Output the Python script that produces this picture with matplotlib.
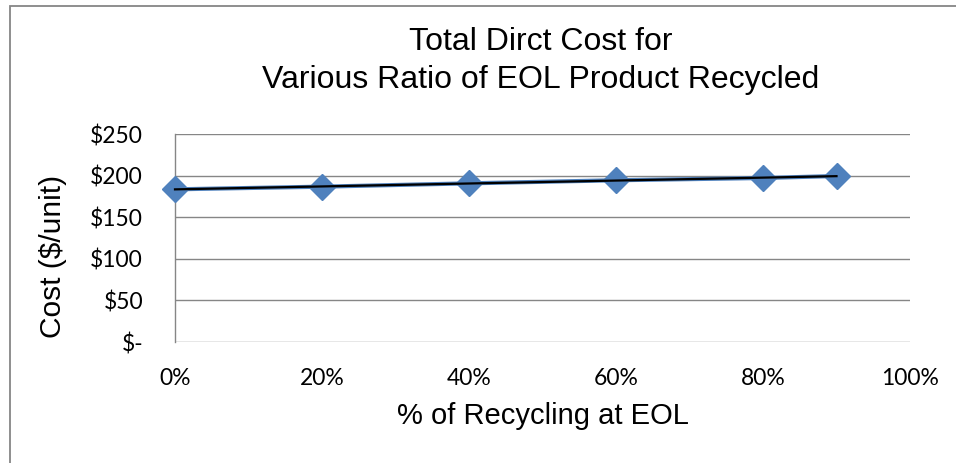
import numpy as np
import matplotlib.pyplot as plt
from matplotlib.patches import Rectangle
from matplotlib.ticker import FuncFormatter

# Recycling share at end of life and total direct cost per unit
recycle_share = [0.0, 0.2, 0.4, 0.6, 0.8, 0.9]
direct_cost = [183.5, 186.7, 190.7, 194.4, 197.1, 199.5]

x_ticks = [0.0, 0.2, 0.4, 0.6, 0.8, 1.0]
y_ticks = [0, 50, 100, 150, 200, 250]

title_lines = ["Total Dirct Cost for", "Various Ratio of EOL Product Recycled"]
x_label = "% of Recycling at EOL"
y_label = "Cost ($/unit)"

W, H = 956, 463
fig = plt.figure(figsize=(W / 100, H / 100), dpi=100)
fig.patch.set_facecolor("white")

# outer chart frame
fig.add_artist(Rectangle((9.5 / W, -0.1), 2.0, 1.1 - 6.5 / H,
                         transform=fig.transFigure, fill=False,
                         edgecolor="#868686", linewidth=1.3))

ax = fig.add_axes([175 / W, (H - 342) / H, 735 / W, 208 / H])
ax.set_xlim(0, 1.0)
ax.set_ylim(0, 250)

ax.set_xticks(x_ticks)
ax.set_yticks(y_ticks)
ax.xaxis.set_major_formatter(FuncFormatter(lambda v, p: f"{v * 100:.0f}%"))
ax.yaxis.set_major_formatter(FuncFormatter(lambda v, p: "$-" if v == 0 else f"${v:.0f}"))
for lbl in ax.get_xticklabels() + ax.get_yticklabels():
    lbl.set_fontfamily("Lato")
    lbl.set_fontsize(16.5)
ax.tick_params(axis="both", length=0, colors="black")
ax.tick_params(axis="x", pad=19)
ax.tick_params(axis="y", pad=23)

ax.grid(axis="y", color="#868686", linewidth=1.0)
ax.set_axisbelow(True)
for side in ["top", "right", "bottom"]:
    ax.spines[side].set_visible(False)
ax.spines["left"].set_color("#868686")
ax.spines["left"].set_linewidth(1.0)

# data series
ax.plot(recycle_share, direct_cost, color="#4f81bd", linewidth=3,
        marker="D", markersize=13, markerfacecolor="#4f81bd",
        markeredgecolor="#4f81bd", clip_on=False, zorder=3)

# linear trend line through the series
coef = np.polyfit(recycle_share, direct_cost, 1)
xs = np.array([recycle_share[0], recycle_share[-1]])
ax.plot(xs, np.polyval(coef, xs), color="black", linewidth=1.6,
        clip_on=False, zorder=4)

ax.set_xlabel(x_label, family="Liberation Sans", fontsize=21, labelpad=9)
ax.set_ylabel(y_label, family="Liberation Sans", fontsize=21.5, labelpad=17)
ax.yaxis.label.set_y(0.413)

fig.text(541 / W, 1 - 42 / H, title_lines[0], family="Liberation Sans",
         fontsize=23, ha="center", va="center")
fig.text(541 / W, 1 - 80 / H, title_lines[1], family="Liberation Sans",
         fontsize=23, ha="center", va="center")

fig.savefig("out.png", dpi=100, facecolor="white")
